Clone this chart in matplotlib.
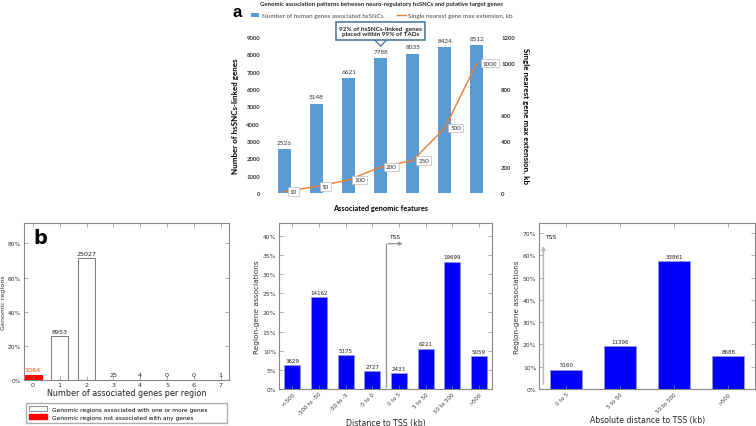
import numpy as np
import matplotlib
matplotlib.use('Agg')
import matplotlib.pyplot as plt
from matplotlib.patches import Patch
from matplotlib.lines import Line2D

# panel a
feat_idx = [0, 1, 2, 3, 4, 5, 6]
genes_linked = [2526, 5148, 6621, 7788, 8035, 8424, 8512]
max_extension = [10, 50, 100, 200, 250, 500, 1000]

# panel b, left
n_genes = [0, 1, 2, 3, 4, 5, 6, 7]
n_regions = [1064, 8953, 25027, 25, 4, 0, 0, 1]

# panel b, middle
tss_bins = ['<-500', '-500 to -50', '-50 to -5', '-5 to 0', '0 to 5', '5 to 50', '50 to 500', '>500']
tss_counts = [3629, 14162, 5175, 2727, 2433, 6221, 19699, 5059]

# panel b, right
abs_bins = ['0 to 5', '5 to 50', '50 to 500', '>500']
abs_counts = [5160, 11396, 33861, 8688]

fig = plt.figure(figsize=(7.56, 4.27), dpi=100)
fig.patch.set_facecolor('white')

XL_BLUE = '#5B9BD5'
XL_ORANGE = '#ED7D31'
AFONT = 'Lato'

# ---------------- panel a ----------------
axa = fig.add_axes([0.355, 0.5457, 0.297, 0.3653])
axa.bar(feat_idx, genes_linked, width=0.4, color=XL_BLUE)
axa.set_xlim(-0.5, 6.5)
axa.set_ylim(0, 9000)
axa.set_yticks(np.arange(0, 9001, 1000))
axa.set_xticks([])
for s in axa.spines.values():
    s.set_visible(False)
axa.tick_params(axis='y', length=0, labelsize=4.3, pad=6, labelcolor='#333333')
for lab in axa.get_yticklabels():
    lab.set_fontweight('bold')
    lab.set_family(AFONT)
for x, v in zip(feat_idx, genes_linked):
    axa.text(x, v + 250, str(v), ha='center', va='bottom', fontsize=4.6, family=AFONT, color='#333333')
axa.set_ylabel('Number of hsSNCs-linked genes', fontsize=5.8, fontweight='bold', family=AFONT, labelpad=5)
axa.set_xlabel('Associated genomic features', fontsize=5.3, fontweight='bold', family=AFONT, labelpad=8)

axr = axa.twinx()
axr.plot(feat_idx, max_extension, color=XL_ORANGE, lw=1)
axr.set_ylim(0, 1200)
axr.set_yticks(np.arange(0, 1201, 200))
for s in axr.spines.values():
    s.set_visible(False)
axr.tick_params(axis='y', length=0, labelsize=4.3, pad=6, labelcolor='#333333')
for lab in axr.get_yticklabels():
    lab.set_fontweight('bold')
    lab.set_family(AFONT)
for x, v in zip(feat_idx, max_extension):
    axr.annotate(str(v), (x, v), xytext=(4, 0), textcoords='offset points', ha='left', va='center',
                 fontsize=4.5, family=AFONT, color='#333333',
                 bbox=dict(boxstyle='square,pad=0.3', fc='white', ec='#bbbbbb', lw=0.5))
axr.set_ylabel('Single nearest gene max extension, kb', fontsize=5.8, fontweight='bold', family=AFONT,
               rotation=-90, labelpad=10)

# callout over the 4th bar
axa.annotate('92% of hsSNCs-linked  genes\nplaced within 99% of TADs', xy=(3, 8480), xytext=(3, 9350),
             ha='center', va='center', fontsize=4.6, fontweight='bold', family=AFONT, color='#222222',
             annotation_clip=False,
             bbox=dict(boxstyle='square,pad=0.5', fc='white', ec='#41719C', lw=1.1),
             arrowprops=dict(arrowstyle='simple,head_length=0.45,head_width=0.9,tail_width=0.4',
                             fc='white', ec='#41719C', lw=0.9, shrinkA=0, shrinkB=0,
                             mutation_scale=11))

leg_handles = [Patch(facecolor=XL_BLUE, edgecolor='none'), Line2D([], [], color=XL_ORANGE, lw=1)]
fig.legend(leg_handles, ['Number of human genes associated hsSNCs', 'Single nearest gene max extension, kb'],
           loc='center', bbox_to_anchor=(0.505, 0.962), ncol=2, frameon=False,
           prop={'family': AFONT, 'size': 4.5}, labelcolor='#444444', handlelength=1.4,
           handleheight=0.6, columnspacing=2.2, handletextpad=0.4)
fig.text(0.505, 0.99, 'Genomic association patterns between neuro-regulatory hsSNCs and putative target genes',
         ha='center', va='center', fontsize=4.3, fontweight='bold', family=AFONT, color='#222222')
fig.text(0.313, 0.97, 'a', ha='center', va='center', fontsize=12, fontweight='bold', family='Liberation Sans')


def classic(ax):
    for s in ax.spines.values():
        s.set_color('#888888')
        s.set_linewidth(0.8)
    ax.tick_params(direction='in', top=True, right=True, length=3, width=0.5, color='#888888',
                   labelsize=4.3, labelcolor='#333333', pad=2)


# ---------------- panel b left ----------------
total_b = sum(n_regions)
frac_b = [v / total_b for v in n_regions]
axb = fig.add_axes([0.0317, 0.1077, 0.271, 0.3677])
cols = ['red'] + ['white'] * (len(n_genes) - 1)
edges = ['red'] + ['#777777'] * (len(n_genes) - 1)
axb.bar(n_genes, frac_b, width=0.65, color=cols, edgecolor=edges, linewidth=0.7)
axb.set_xlim(-0.33, 7.3)
axb.set_ylim(0, 0.92)
axb.set_yticks([0, 0.2, 0.4, 0.6, 0.8])
axb.set_yticklabels(['0%', '20%', '40%', '60%', '80%'])
axb.set_xticks(n_genes)
classic(axb)
axb.tick_params(axis='x', labelsize=4.6, pad=1.5)
for x, v, f in zip(n_genes, n_regions, frac_b):
    axb.text(x, f + 0.015, str(v), ha='center', va='bottom', fontsize=4.6,
             color='#ff4500' if x == 0 else '#222222')
axb.set_xlabel('Number of associated genes per region', fontsize=5.8, labelpad=0.5, color='#222222')
axb.set_ylabel('Genomic regions', fontsize=4.6, labelpad=1.5, color='#333333')
axb.text(0.08, 0.91, 'b', transform=axb.transAxes, fontsize=14, fontweight='bold', ha='center', va='center')
axb.legend([Patch(facecolor='white', edgecolor='#777777', lw=0.6), Patch(facecolor='red', edgecolor='red')],
           ['Genomic regions associated with one or more genes', 'Genomic regions not associated with any genes'],
           loc='upper left', bbox_to_anchor=(-0.005, -0.25, 1.01, 0.12), mode='expand',
           fontsize=4.2, frameon=True, fancybox=False, edgecolor='#999999', handlelength=3.2,
           handleheight=0.9, borderpad=0.5, labelspacing=0.45)

# ---------------- panel b middle ----------------
total_t = sum(tss_counts)
frac_t = [v / total_t for v in tss_counts]
xt = np.arange(len(tss_bins))
axm = fig.add_axes([0.369, 0.0867, 0.282, 0.3887])
axm.bar(xt, frac_t, width=0.6, color='#0000ff', edgecolor='#9999cc', linewidth=0.5)
axm.set_xlim(-0.5, 7.5)
axm.set_ylim(0, 0.434)
axm.set_yticks(np.arange(0, 0.41, 0.05))
axm.set_yticklabels(['%d%%' % p for p in range(0, 41, 5)])
axm.set_xticks(xt)
axm.set_xticklabels(tss_bins, rotation=45, ha='right', rotation_mode='anchor')
classic(axm)
axm.tick_params(axis='x', labelsize=4.0, pad=1.5)
for x, v, f in zip(xt, tss_counts, frac_t):
    axm.text(x, f + 0.006, str(v), ha='center', va='bottom', fontsize=4.0, color='#222222')
axm.plot([3.5, 3.5], [0.005, 0.38], color='#999999', lw=1)
axm.annotate('', xy=(4.25, 0.38), xytext=(3.49, 0.38),
             arrowprops=dict(arrowstyle='-|>', color='#999999', lw=1, mutation_scale=5, fc='black'))
axm.text(3.85, 0.392, 'TSS', fontsize=4.3, ha='center', va='bottom', color='#222222')
axm.set_xlabel('Distance to TSS (kb)', fontsize=5.6, labelpad=1, color='#222222')
axm.set_ylabel('Region-gene associations', fontsize=5.3, labelpad=2, color='#333333')

# ---------------- panel b right ----------------
total_a = sum(abs_counts)
frac_a = [v / total_a for v in abs_counts]
xa = np.arange(len(abs_bins))
axq = fig.add_axes([0.713, 0.0867, 0.286, 0.3887])
axq.bar(xa, frac_a, width=0.6, color='#0000ff', edgecolor='#9999cc', linewidth=0.5)
axq.set_xlim(-0.5, 3.5)
axq.set_ylim(0, 0.745)
axq.set_yticks(np.arange(0, 0.71, 0.1))
axq.set_yticklabels(['%d%%' % p for p in range(0, 71, 10)])
axq.set_xticks(xa)
axq.set_xticklabels(abs_bins, rotation=45, ha='right', rotation_mode='anchor')
classic(axq)
axq.tick_params(axis='x', labelsize=4.0, pad=1.5)
for x, v, f in zip(xa, abs_counts, frac_a):
    axq.text(x, f + 0.01, str(v), ha='center', va='bottom', fontsize=4.0, color='#222222')
axq.annotate('', xy=(-0.42, 0.655), xytext=(-0.42, 0.01),
             arrowprops=dict(arrowstyle='-|>', color='#bbbbbb', lw=1.2, mutation_scale=5, fc='black'))
axq.text(-0.39, 0.675, 'TSS', fontsize=4.3, ha='left', va='bottom', color='#222222')
axq.set_xlabel('Absolute distance to TSS (kb)', fontsize=5.6, labelpad=1, color='#222222')
axq.set_ylabel('Region-gene associations', fontsize=5.3, labelpad=2, color='#333333')

fig.savefig('out.png', dpi=100, facecolor='white')
